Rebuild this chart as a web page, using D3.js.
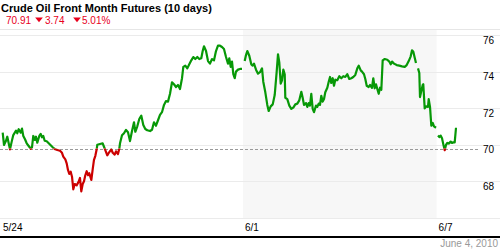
<!DOCTYPE html>
<html>
<head>
<meta charset="utf-8">
<script src="https://cdn.jsdelivr.net/npm/d3@7"></script>
<style>
  body { margin: 0; background: #fff; }
  svg { display: block; font-family: "Liberation Sans", Arial, sans-serif; }
</style>
</head>
<body>
<div id="chart"></div>
<script>
const title = "Crude Oil Front Month Futures (10 days)";
const lastPrice = "70.91";
const changeAbs = "3.74";
const changePct = "5.01%";
const dateLabel = "June 4, 2010";

const tradingDays = ["5/24", "5/25", "5/26", "5/27", "5/28", "6/1", "6/2", "6/3", "6/4", "6/7"];
const labeledDays = ["5/24", "6/1", "6/7"];
const shadedWeek = ["6/1", "6/4"];
const priceTicks = [76, 74, 72, 70, 68];
const gridValues = [76, 74, 72, 70, 68, 66];
const prevClose = 69.8;

// position in trading days since 5/24 open, null = break in the line
const sessionPos = [
  0.035, 0.062, 0.103, 0.130, 0.171, 0.186, 0.221, 0.254, 0.310, 0.337, 0.366, 0.407, 0.434, 0.461, 0.496,
  0.531, 0.572, 0.614, 0.640, 0.667, 0.696, 0.723, 0.750, 0.791, 0.820, 0.847, 0.874, 0.903, 0.944, 0.986,
  1.027, 1.068, 1.122, 1.163, 1.219, 1.260, 1.287, 1.329, 1.357, 1.384, 1.411, 1.440, 1.467, 1.494, 1.523,
  1.564, 1.605, 1.632, 1.659, 1.688, 1.715, 1.742, 1.771, 1.798, 1.824, 1.866, 1.895, 1.921, 1.948, 1.977,
  1.990, 2.045, 2.101, 2.128, 2.155, 2.196, 2.238, 2.279, 2.308, 2.349, 2.376, 2.417, 2.444, 2.459, 2.500,
  2.541, 2.583, 2.624, 2.665, 2.707, 2.748, 2.775, 2.816, 2.857, 2.899, 2.940, 2.981, 3.023, 3.079, 3.120,
  3.161, 3.202, 3.244, 3.285, 3.326, 3.368, 3.409, 3.450, 3.492, 3.533, 3.574, 3.616, 3.657, 3.698, 3.740,
  3.767, 3.808, 3.849, 3.890, 3.932, 3.973, 4.014, 4.056, 4.097, 4.138, 4.167, 4.194, 4.236, 4.277, 4.318,
  4.360, 4.401, 4.442, 4.483, 4.525, 4.566, 4.607, 4.649, 4.690, 4.717, 4.746, 4.773, 4.800, 4.829, 4.855,
  4.897, 4.938, 4.979, 5.005,
  5.035, 5.062, 5.089, 5.130, 5.171, 5.200, 5.227, 5.269, 5.310, 5.351, 5.393, 5.419, 5.461, 5.502, 5.531,
  5.572, 5.614, 5.655, 5.696, 5.723, 5.750, 5.779, 5.806, 5.833, 5.862, 5.874, 5.915, 5.957, 5.998, 6.039,
  6.081, 6.122, 6.163, 6.205, 6.233, 6.260, 6.302, 6.329, 6.357, 6.384, 6.411, 6.440, 6.467, 6.508, 6.535,
  6.564, 6.591, 6.618, 6.647, 6.674, 6.700, 6.742, 6.771, 6.798, 6.824, 6.853, 6.880, 6.907, 6.948, 6.990,
  7.031, 7.072, 7.114, 7.155, 7.196, 7.238, 7.279, 7.320, 7.362, 7.391, 7.432, 7.459, 7.500, 7.527, 7.556,
  7.597, 7.624, 7.665, 7.692, 7.721, 7.748, 7.775, 7.804, 7.831, 7.858, 7.886, 7.928, 7.981, 8.023, 8.052,
  8.079, 8.120, 8.176, 8.230, 8.285, 8.341, 8.382, 8.424, 8.465, 8.492, 8.519, 8.548, 8.574, 8.595,
  8.616, 8.643, 8.657, 8.684, 8.713, 8.725, 8.754, 8.781, 8.822, 8.837, 8.864, 8.891, 8.920, 8.946, 8.988, 9.008,
  9.029, 9.056, 9.085, 9.112, 9.139, 9.168, 9.194, 9.221, 9.250, 9.291, 9.318, 9.345, 9.374, 9.401
];
const prices = [
  70.67, 70.00, 70.23, 70.45, 69.94, 69.76, 70.18, 70.54, 70.78, 70.64, 70.86, 70.67, 70.89, 70.49, 70.31,
  70.09, 69.94, 69.79, 69.87, 70.49, 70.27, 70.45, 70.12, 70.49, 70.60, 70.42, 70.49, 70.23, 70.20, 70.09,
  69.98, 69.87, 69.76, 69.72, 69.68, 69.57, 69.36, 69.21, 68.99, 68.63, 68.41, 68.53, 68.26, 67.57, 67.86,
  67.79, 67.99, 68.19, 67.46, 67.86, 68.01, 68.34, 68.56, 68.34, 68.45, 68.08, 68.67, 69.18, 69.39, 69.76,
  70.01, 70.05, 70.09, 69.90, 69.72, 69.43, 69.61, 69.76, 69.57, 69.47, 69.65, 69.50, 69.79, 70.09, 70.53,
  70.64, 70.82, 70.69, 70.21, 70.76, 71.24, 70.72, 71.02, 71.42, 71.60, 71.09, 70.87, 70.80, 70.76, 70.83,
  71.24, 71.05, 71.35, 71.64, 71.79, 72.19, 72.40, 72.37, 72.80, 73.43, 73.32, 73.17, 73.28, 73.06, 73.65,
  74.27, 74.34, 74.19, 74.41, 74.63, 74.81, 74.70, 74.81, 74.70, 74.74, 75.14, 75.40, 75.14, 74.59, 74.45,
  74.70, 74.63, 75.14, 75.43, 75.43, 75.36, 75.25, 74.81, 74.45, 74.74, 74.27, 74.56, 73.87, 73.65, 74.01,
  74.12, 74.16, 74.16, null,
  74.59, 74.92, 75.14, 74.88, 74.41, 74.34, 74.45, 74.12, 73.90, 73.98, 74.19, 73.46, 72.88, 72.19, 71.86,
  72.11, 72.22, 72.73, 74.01, 74.96, 74.52, 73.35, 73.54, 74.12, 73.87, 72.58, 72.51, 72.15, 71.97, 72.04,
  72.22, 72.26, 72.44, 72.91, 72.58, 72.19, 72.29, 72.08, 72.29, 72.15, 72.80, 71.97, 71.79, 72.15, 72.08,
  72.26, 72.19, 72.69, 72.37, 72.51, 72.88, 73.13, 73.46, 73.72, 73.39, 73.65, 73.24, 73.57, 73.54, 73.76,
  73.65, 73.76, 73.72, 73.87, 73.61, 73.65, 73.72, 73.83, 74.19, 74.34, 74.08, 74.01, 73.87, 73.61, 73.24,
  73.17, 73.28, 73.13, 73.65, 73.10, 73.32, 73.06, 72.80, 73.13, 73.02, 74.63, 74.70, 74.66, 74.56, 74.41,
  74.56, 74.45, 74.37, 74.34, 74.30, 74.27, 74.37, 74.59, 74.85, 75.18, 75.10, 74.77, 74.48, null,
  74.19, 73.94, 72.62, 72.95, 73.28, 73.32, 72.00, 72.11, 72.08, 72.51, 72.08, 71.05, 71.20, 71.02, 70.94, null,
  70.51, 70.43, 70.51, 70.36, 70.03, 69.71, 70.00, 70.11, 70.07, 70.18, 70.11, 70.14, 70.14, 70.94
];

const width = 500;
const height = 250;
const plotTop = 29;
const plotBottom = 218;

const svg = d3.select("#chart")
  .append("svg")
  .attr("width", width)
  .attr("height", height);

const xScale = d3.scaleLinear()
  .domain([0, tradingDays.length])
  .range([1, 485]);

const yScale = d3.scaleLinear()
  .domain([66, 76])
  .range([plotBottom, 35.3]);

// shaded week
const shadeStart = tradingDays.indexOf(shadedWeek[0]);
const shadeEnd = tradingDays.indexOf(shadedWeek[1]) + 1;
svg.append("rect")
  .attr("x", xScale(shadeStart))
  .attr("y", plotTop)
  .attr("width", xScale(shadeEnd) - xScale(shadeStart))
  .attr("height", plotBottom - plotTop)
  .attr("fill", "#f7f7f7");

// top rule + grid
svg.append("line")
  .attr("x1", 0).attr("x2", width)
  .attr("y1", plotTop + 0.5).attr("y2", plotTop + 0.5)
  .attr("stroke", "#e6e6e6");

svg.append("g")
  .attr("class", "grid")
  .selectAll("line")
  .data(gridValues)
  .enter()
  .append("line")
  .attr("x1", 0)
  .attr("x2", width)
  .attr("y1", d => Math.round(yScale(d)) + 0.5)
  .attr("y2", d => Math.round(yScale(d)) + 0.5)
  .attr("stroke", "#ebebeb");

// y labels sit just under their grid line
svg.append("g")
  .attr("class", "y axis")
  .selectAll("text")
  .data(priceTicks)
  .enter()
  .append("text")
  .attr("x", 494)
  .attr("y", d => yScale(d) + 8.5)
  .attr("text-anchor", "end")
  .attr("font-size", 10)
  .attr("fill", "#000")
  .text(d => d);

// previous close
svg.append("line")
  .attr("x1", 0).attr("x2", 479)
  .attr("y1", Math.round(yScale(prevClose)) + 0.5)
  .attr("y2", Math.round(yScale(prevClose)) + 0.5)
  .attr("stroke", "#999")
  .attr("stroke-dasharray", "3,2");

// price line, green above prev close, red below
const series = sessionPos.map((t, i) => ({ t: t, p: prices[i] }));
const line = d3.line()
  .defined(d => d.p !== null)
  .x(d => xScale(d.t))
  .y(d => yScale(d.p));

const yCut = yScale(prevClose);
const defs = svg.append("defs");
defs.append("clipPath").attr("id", "above")
  .append("rect").attr("x", 0).attr("y", 0).attr("width", width).attr("height", yCut);
defs.append("clipPath").attr("id", "below")
  .append("rect").attr("x", 0).attr("y", yCut).attr("width", width).attr("height", height - yCut);

svg.append("path")
  .datum(series)
  .attr("clip-path", "url(#above)")
  .attr("fill", "none")
  .attr("stroke", "#079807")
  .attr("stroke-width", 2.2)
  .attr("stroke-linejoin", "round")
  .attr("d", line);

svg.append("path")
  .datum(series)
  .attr("clip-path", "url(#below)")
  .attr("fill", "none")
  .attr("stroke", "#cc0000")
  .attr("stroke-width", 2.2)
  .attr("stroke-linejoin", "round")
  .attr("d", line);

// x labels
svg.append("g")
  .attr("class", "x axis")
  .selectAll("text")
  .data(labeledDays)
  .enter()
  .append("text")
  .attr("x", d => xScale(tradingDays.indexOf(d)) + 2)
  .attr("y", 231)
  .attr("font-size", 10)
  .attr("fill", "#000")
  .text(d => d);

// bottom rule
svg.append("rect")
  .attr("x", 0).attr("y", 236)
  .attr("width", width).attr("height", 2)
  .attr("fill", "#000");

svg.append("text")
  .attr("x", 498)
  .attr("y", 247)
  .attr("text-anchor", "end")
  .attr("font-size", 10)
  .attr("fill", "#999")
  .text(dateLabel);

// header
svg.append("text")
  .attr("x", 1)
  .attr("y", 12)
  .attr("font-size", 11)
  .attr("font-weight", "bold")
  .attr("fill", "#000")
  .text(title);

const red = "#e8001c";
const quote = svg.append("text")
  .attr("x", 6)
  .attr("y", 24)
  .attr("font-size", 10)
  .attr("fill", red);
quote.append("tspan").text(lastPrice);
quote.append("tspan").attr("x", 45).text(changeAbs);
quote.append("tspan").attr("x", 82).text(changePct);

// down arrows
const arrow = d3.symbol().type(d3.symbolTriangle).size(26);
svg.selectAll(".arrow")
  .data([39, 77])
  .enter()
  .append("path")
  .attr("class", "arrow")
  .attr("d", arrow)
  .attr("transform", d => `translate(${d}, 19) rotate(180) scale(1, 0.7)`)
  .attr("fill", red);
</script>
</body>
</html>
